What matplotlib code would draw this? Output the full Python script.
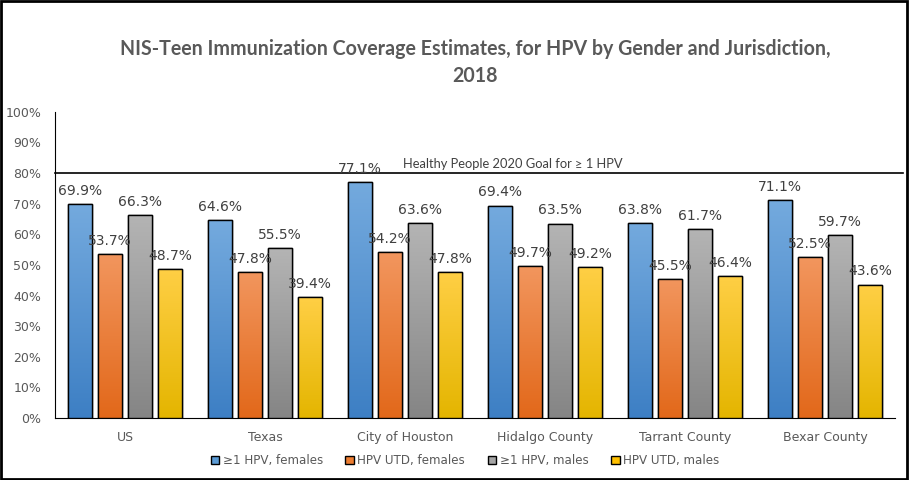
import matplotlib
matplotlib.use("Agg")
import matplotlib.pyplot as plt
import numpy as np
from matplotlib.patches import Rectangle
from matplotlib.colors import LinearSegmentedColormap

categories = ["US", "Texas", "City of Houston", "Hidalgo County", "Tarrant County", "Bexar County"]
series_names = ["\u22651 HPV, females", "HPV UTD, females", "\u22651 HPV, males", "HPV UTD, males"]
f_any = [69.9, 64.6, 77.1, 69.4, 63.8, 71.1]
f_utd = [53.7, 47.8, 54.2, 49.7, 45.5, 52.5]
m_any = [66.3, 55.5, 63.6, 63.5, 61.7, 59.7]
m_utd = [48.7, 39.4, 47.8, 49.2, 46.4, 43.6]
series = [f_any, f_utd, m_any, m_utd]
goal = 80
goal_label = "Healthy People 2020 Goal for \u2265 1 HPV"
title = "NIS-Teen Immunization Coverage Estimates, for HPV by Gender and Jurisdiction,\n2018"

grads = [("#74aade", "#3d7fc4"), ("#f2965e", "#e2681a"), ("#b4b4b4", "#858585"), ("#ffcf45", "#e4b500")]
solid = ["#5b9bd5", "#ed7d31", "#a5a5a5", "#ffc000"]

fig = plt.figure(figsize=(9.1, 4.8), dpi=100)
ax = fig.add_axes([0.0604, 0.129, 0.923, 0.638])

x = np.arange(len(categories))
bw = 0.171
step = 0.214
offsets = (np.arange(4) - 1.5) * step

ax.set_xlim(-0.5, len(categories) - 0.5)
ax.set_ylim(0, 100)

for i, vals in enumerate(series):
    cmap = LinearSegmentedColormap.from_list("g%d" % i, [grads[i][1], grads[i][0]])
    bars = ax.bar(x + offsets[i], vals, width=bw, color=solid[i], edgecolor="black",
                  linewidth=1.0, zorder=3, label=series_names[i])
    for b, v in zip(bars, vals):
        x0 = b.get_x()
        im = ax.imshow(np.linspace(0, 1, 256).reshape(-1, 1), cmap=cmap, origin="lower",
                       extent=[x0, x0 + bw, 0, v], aspect="auto", zorder=3.5)
        im.set_clip_path(b)
        edge = Rectangle((x0, 0), bw, v, fill=False, edgecolor="black", linewidth=1.0, zorder=4)
        ax.add_patch(edge)
        ax.text(x0 + bw / 2, v + 2.0, f"{v:.1f}%", ha="center", va="bottom",
                fontsize=10, color="#404040", zorder=5)

ax.set_xlim(-0.5, len(categories) - 0.5)
ax.set_ylim(0, 100)

ax.axhline(goal, color="black", linewidth=1.2, zorder=2, xmax=1.01, clip_on=False)
ax.text(2.77, goal + 1.0, goal_label, ha="center", va="bottom",
        fontsize=9.3, family="Lato", color="#404040")

ax.set_yticks(np.arange(0, 101, 10))
ax.set_yticklabels([f"{t}%" for t in range(0, 101, 10)])
ax.set_xticks(x)
ax.set_xticklabels(categories)
ax.tick_params(axis="both", length=0, labelsize=9, colors="#595959")
ax.tick_params(axis="y", pad=10)
ax.tick_params(axis="x", pad=9)
for s in ["top", "right"]:
    ax.spines[s].set_visible(False)
ax.spines["left"].set_color("black")
ax.spines["bottom"].set_color("black")

fig.text(0.522, 0.869, title, ha="center", va="center", fontsize=14.1, fontweight="bold",
         family="Lato", color="#595959", linespacing=1.45)

handles = [Rectangle((0, 0), 1, 1, facecolor=solid[i], edgecolor="black", linewidth=1.0) for i in range(4)]
leg = fig.legend(handles, series_names, loc="center", bbox_to_anchor=(0.511, 0.04), ncol=4,
                 frameon=False, fontsize=8.6, handlelength=0.7, handleheight=0.7,
                 handletextpad=0.3, columnspacing=1.9)
for t in leg.get_texts():
    t.set_color("#595959")

fig.patches.append(Rectangle((0.001, 0.002), 0.996, 0.995, transform=fig.transFigure,
                             fill=False, edgecolor="black", linewidth=2))

fig.savefig("out.png", dpi=100)
